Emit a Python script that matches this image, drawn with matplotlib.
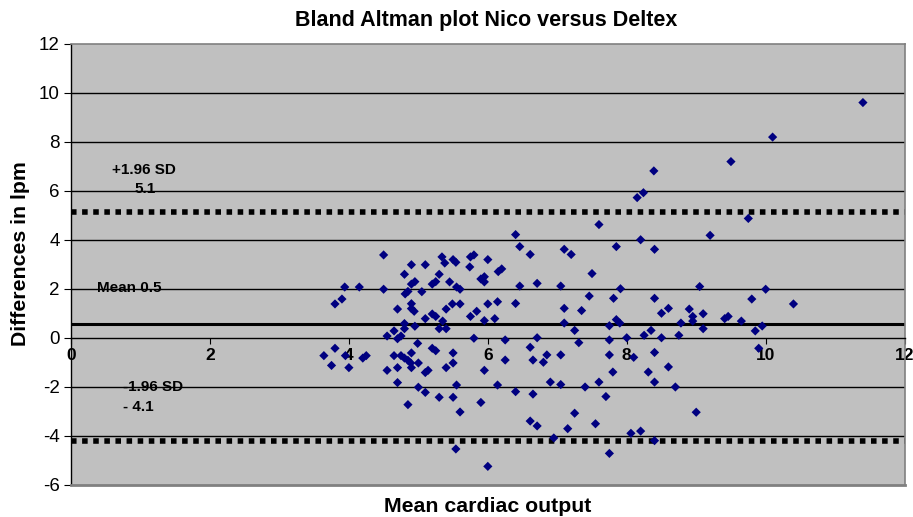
import matplotlib
matplotlib.use('Agg')
import matplotlib.pyplot as plt

plt.rcParams['font.family'] = ['Liberation Sans', 'DejaVu Sans']
plt.rcParams['axes.unicode_minus'] = False

# ── Data ──────────────────────────────────────────────────────────────────────
mean_co = [
    4.50, 3.94, 4.15, 3.80, 3.90, 4.50, 4.90, 5.10, 5.34, 5.38, 5.50, 5.54,
    5.75, 5.80, 6.00, 5.74, 6.15, 4.80, 5.30, 4.90, 4.95, 4.85, 4.81, 5.05,
    5.20, 5.25, 5.45, 5.55, 5.60, 5.90, 5.95, 5.95, 4.70, 4.90, 4.90, 4.94,
    5.10, 5.20, 5.25, 5.35, 5.40, 5.49, 5.60, 5.75, 5.84, 6.00, 5.95, 6.10,
    6.14, 4.80, 4.80, 4.95, 5.30, 5.40, 4.65, 4.55, 4.70, 4.75, 5.80, 4.99,
    3.64, 3.80, 3.75, 3.95, 4.00, 4.20, 4.25, 4.65, 4.75, 4.80, 4.85, 4.90,
    4.89, 4.90, 5.00, 4.55, 4.70, 5.20, 5.25, 5.50, 5.50, 5.40, 5.10, 5.14,
    5.95, 4.70, 5.00, 5.10, 5.30, 5.50, 5.55, 6.14, 4.85, 5.60, 5.90, 5.54,
    6.00,
    7.60, 6.40, 6.46, 6.61, 7.10, 7.20, 7.85, 8.20, 8.40, 6.20, 6.46, 6.71,
    7.05, 6.40, 7.50, 7.91, 7.46, 7.81, 8.40, 7.10, 7.35, 8.60, 8.50, 7.10,
    7.75, 7.85, 7.90, 7.25, 8.35, 8.25, 8.78, 8.75, 6.71, 6.25, 6.61, 7.75,
    8.00, 8.50, 7.31, 6.25, 6.65, 6.85, 6.80, 7.05, 7.75, 8.10, 8.40, 8.60,
    7.80, 8.31, 6.40, 6.65, 6.90, 7.05, 7.40, 7.60, 8.40, 8.70, 7.70, 7.25,
    6.61, 6.71, 7.15, 7.55, 6.95, 8.06, 8.20, 8.40, 7.75,
    11.40, 10.10, 9.50, 9.75, 9.20, 9.05, 10.00, 9.80, 10.40, 8.90, 8.95,
    9.10, 8.95, 9.41, 9.46, 9.65, 9.10, 9.95, 9.85, 9.90, 9.00,
    8.39, 8.24, 8.15,
]
diff_lpm = [
    3.39, 2.08, 2.08, 1.39, 1.59, 1.99, 2.99, 2.99, 3.31, 3.06, 3.20, 3.09,
    3.31, 3.39, 3.20, 2.90, 2.71, 2.60, 2.60, 2.20, 2.30, 1.90, 1.80, 1.89,
    2.20, 2.30, 2.29, 2.08, 1.99, 2.41, 2.50, 2.29, 1.18, 1.40, 1.20, 1.09,
    0.79, 0.98, 0.88, 0.69, 1.18, 1.39, 1.39, 0.88, 1.09, 1.39, 0.71, 0.79,
    1.48, 0.59, 0.38, 0.48, 0.38, 0.38, 0.29, 0.08, -0.03, 0.08, -0.01, -0.22,
    -0.72, -0.42, -1.12, -0.72, -1.21, -0.82, -0.72, -0.72, -0.72, -0.82, -0.91, -0.61,
    -1.02, -1.21, -1.02, -1.32, -1.21, -0.42, -0.52, -0.61, -1.02, -1.21, -1.41, -1.32,
    -1.32, -1.82, -2.01, -2.22, -2.42, -2.42, -1.92, -1.92, -2.72, -3.02, -2.63, -4.53,
    -5.24,
    4.63, 4.22, 3.73, 3.41, 3.62, 3.41, 3.73, 4.01, 3.62, 2.82, 2.12, 2.23,
    2.12, 1.41, 2.63, 2.01, 1.71, 1.62, 1.62, 1.21, 1.12, 1.21, 1.01, 0.61,
    0.50, 0.75, 0.61, 0.31, 0.31, 0.11, 0.61, 0.11, 0.01, -0.08, -0.38, -0.08,
    0.01, 0.01, -0.19, -0.90, -0.90, -0.69, -0.99, -0.69, -0.69, -0.79, -0.59, -1.18,
    -1.39, -1.39, -2.19, -2.29, -1.80, -1.90, -2.00, -1.80, -1.80, -2.00, -2.39, -3.07,
    -3.39, -3.59, -3.70, -3.50, -4.08, -3.89, -3.80, -4.19, -4.71,
    9.61, 8.20, 7.20, 4.88, 4.19, 2.10, 1.99, 1.59, 1.39, 1.18, 0.88,
    0.99, 0.69, 0.79, 0.88, 0.69, 0.38, 0.49, 0.29, -0.42, -3.03,
    6.82, 5.93, 5.73,
]

mean_line = 0.58
upper_loa = 5.15
lower_loa = -4.2

x_ticks = [0, 2, 4, 6, 8, 10, 12]
y_ticks = [-6, -4, -2, 0, 2, 4, 6, 8, 10, 12]

# ── Figure ────────────────────────────────────────────────────────────────────
fig = plt.figure(figsize=(9.13, 5.17), dpi=100)
ax = fig.add_axes([0.0778, 0.0619, 0.913, 0.853])
ax.set_facecolor('#c0c0c0')
ax.set_xlim(0, 12)
ax.set_ylim(-6, 12)

# horizontal gridlines
for yv in y_ticks:
    if yv in (0, 12, -6):
        continue
    ax.axhline(yv, color='black', linewidth=1.0, zorder=1)

# frame: top / right / bottom gray, left = y axis
for side in ('top', 'right'):
    ax.spines[side].set_color('#808080')
    ax.spines[side].set_linewidth(1.2)
ax.spines['left'].set_color('black')
ax.spines['left'].set_linewidth(1.0)
ax.spines['bottom'].set_position(('data', 0))
ax.spines['bottom'].set_color('black')
ax.spines['bottom'].set_linewidth(1.0)
ax.axhline(-6, color='#808080', linewidth=2.0, clip_on=False, zorder=3)

# limits of agreement and mean
ax.axhline(upper_loa, color='black', linewidth=4, linestyle=(0, (1, 1)), zorder=2)
ax.axhline(lower_loa, color='black', linewidth=4, linestyle=(0, (1, 1)), zorder=2)
ax.axhline(mean_line, color='black', linewidth=2.2, zorder=2)

ax.scatter(mean_co, diff_lpm, marker='D', s=22, color='#000080',
           edgecolors='none', zorder=4)

ax.set_xticks(x_ticks)
ax.set_yticks(y_ticks)
ax.tick_params(axis='x', direction='out', length=4, labelsize=12.5, pad=3)
ax.tick_params(axis='y', direction='out', length=5, labelsize=13.5, pad=3)
for lbl in ax.get_xticklabels():
    lbl.set_fontweight('bold')

# annotations
kw = dict(fontsize=11, fontweight='bold', ha='left', va='center', zorder=5)
ax.text(0.59, 6.86, '+1.96 SD', **kw)
ax.text(0.92, 6.08, '5.1', **kw)
ax.text(0.37, 2.04, 'Mean 0.5', **kw)
ax.text(0.75, -2.0, '-1.96 SD', **kw)
ax.text(0.75, -2.82, '- 4.1', **kw)

fig.text(0.532, 0.96, 'Bland Altman plot Nico versus Deltex',
         fontsize=15.5, fontweight='bold', ha='center', va='center')
fig.text(0.534, 0.02, 'Mean cardiac output',
         fontsize=15.3, fontweight='bold', ha='center', va='center')
fig.text(0.022, 0.51, 'Differences in lpm', rotation=90,
         fontsize=15.3, fontweight='bold', ha='center', va='center')

fig.savefig('out.png', dpi=100)
